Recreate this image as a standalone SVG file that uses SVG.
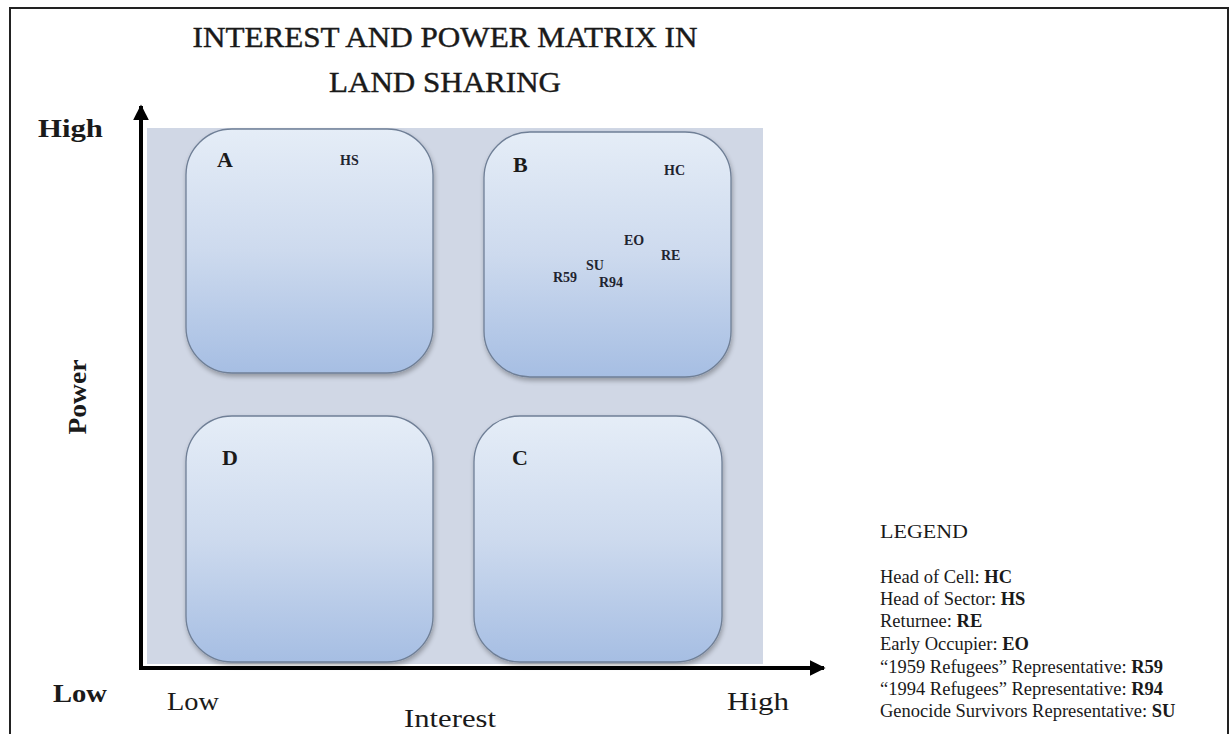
<svg xmlns="http://www.w3.org/2000/svg" width="1232" height="734" viewBox="0 0 1232 734">
  <style>
    text { font-family: "Liberation Serif", "DejaVu Serif", serif; fill: #1a1a1a; }
    .title { font-size: 29px; stroke: #1a1a1a; stroke-width: 0.4; }
    .axis-b { font-size: 26px; font-weight: bold; }
    .axis-r { font-size: 26px; }
    .quad { font-size: 22px; font-weight: bold; }
    .code { font-size: 14px; font-weight: bold; fill: #1f2430; }
    .legend { font-size: 18.5px; }
    .legend tspan.b { font-weight: bold; }
    .box { fill: url(#boxFill); stroke: #6f7f96; stroke-width: 1.3; filter: url(#soft); }
    .axis { stroke: #000; stroke-width: 4; fill: none; }
  </style>
  <defs>
    <linearGradient id="boxFill" x1="0" y1="0" x2="0" y2="1">
      <stop offset="0" stop-color="#e5edf7"/>
      <stop offset="0.5" stop-color="#cddaee"/>
      <stop offset="1" stop-color="#a6bee3"/>
    </linearGradient>
    <filter id="soft" x="-10%" y="-10%" width="120%" height="125%">
      <feGaussianBlur in="SourceAlpha" stdDeviation="2.5"/>
      <feOffset dx="1" dy="3" result="b"/>
      <feComponentTransfer><feFuncA type="linear" slope="0.3"/></feComponentTransfer>
      <feMerge><feMergeNode/><feMergeNode in="SourceGraphic"/></feMerge>
    </filter>
    <marker id="arrow" viewBox="0 0 10 10" refX="9" refY="5" markerWidth="4" markerHeight="4" orient="auto" markerUnits="strokeWidth">
      <path d="M0,0 L10,5 L0,10 Z" fill="#000"/>
    </marker>
  </defs>

  <!-- page frame -->
  <rect x="10" y="8" width="1218" height="740" fill="#fff" stroke="#222" stroke-width="2"/>

  <!-- title -->
  <text class="title" x="445" y="47" text-anchor="middle" textLength="505" lengthAdjust="spacingAndGlyphs">INTEREST AND POWER MATRIX IN</text>
  <text class="title" x="445" y="92" text-anchor="middle" textLength="232" lengthAdjust="spacingAndGlyphs">LAND SHARING</text>

  <!-- matrix backdrop -->
  <rect x="147" y="128" width="616" height="536" fill="#d0d7e5"/>

  <g id="quadrant-a">
    <rect class="box" x="186" y="129" width="247" height="244" rx="46"/>
    <text class="quad" x="217" y="167">A</text>
    <text class="code" x="340" y="165">HS</text>
  </g>

  <g id="quadrant-b">
    <rect class="box" x="484" y="132" width="247" height="245" rx="46"/>
    <text class="quad" x="513" y="172">B</text>
    <text class="code" x="664" y="175">HC</text>
    <text class="code" x="624" y="245">EO</text>
    <text class="code" x="661" y="260">RE</text>
    <text class="code" x="586" y="270">SU</text>
    <text class="code" x="553" y="282">R59</text>
    <text class="code" x="599" y="287">R94</text>
  </g>

  <g id="quadrant-d">
    <rect class="box" x="186" y="416" width="247" height="246" rx="46"/>
    <text class="quad" x="222" y="465">D</text>
  </g>

  <g id="quadrant-c">
    <rect class="box" x="474" y="416" width="248" height="246" rx="46"/>
    <text class="quad" x="512" y="465">C</text>
  </g>

  <g id="connectors">
    <line class="axis" x1="141" y1="670" x2="141" y2="106" marker-end="url(#arrow)"/>
    <line class="axis" x1="139" y1="668" x2="824" y2="668" marker-end="url(#arrow)"/>
  </g>

  <!-- axis labels -->
  <text class="axis-b" x="38" y="137" textLength="65" lengthAdjust="spacingAndGlyphs">High</text>
  <text class="axis-b" x="53" y="702" textLength="54" lengthAdjust="spacingAndGlyphs">Low</text>
  <text class="axis-b" transform="translate(86,397) rotate(-90)" text-anchor="middle" textLength="75" lengthAdjust="spacingAndGlyphs">Power</text>
  <text class="axis-r" x="167" y="710" textLength="52" lengthAdjust="spacingAndGlyphs">Low</text>
  <text class="axis-r" x="450" y="727" text-anchor="middle" textLength="92" lengthAdjust="spacingAndGlyphs">Interest</text>
  <text class="axis-r" x="727" y="710" textLength="62" lengthAdjust="spacingAndGlyphs">High</text>

  <g id="legend">
    <text class="legend" x="880" y="538" textLength="88" lengthAdjust="spacingAndGlyphs">LEGEND</text>
    <text class="legend" x="880" y="583">Head of Cell: <tspan class="b">HC</tspan></text>
    <text class="legend" x="880" y="605">Head of Sector: <tspan class="b">HS</tspan></text>
    <text class="legend" x="880" y="627">Returnee: <tspan class="b">RE</tspan></text>
    <text class="legend" x="880" y="650">Early Occupier: <tspan class="b">EO</tspan></text>
    <text class="legend" x="880" y="673">“1959 Refugees” Representative: <tspan class="b">R59</tspan></text>
    <text class="legend" x="880" y="695">“1994 Refugees” Representative: <tspan class="b">R94</tspan></text>
    <text class="legend" x="880" y="717">Genocide Survivors Representative: <tspan class="b">SU</tspan></text>
  </g>
</svg>
